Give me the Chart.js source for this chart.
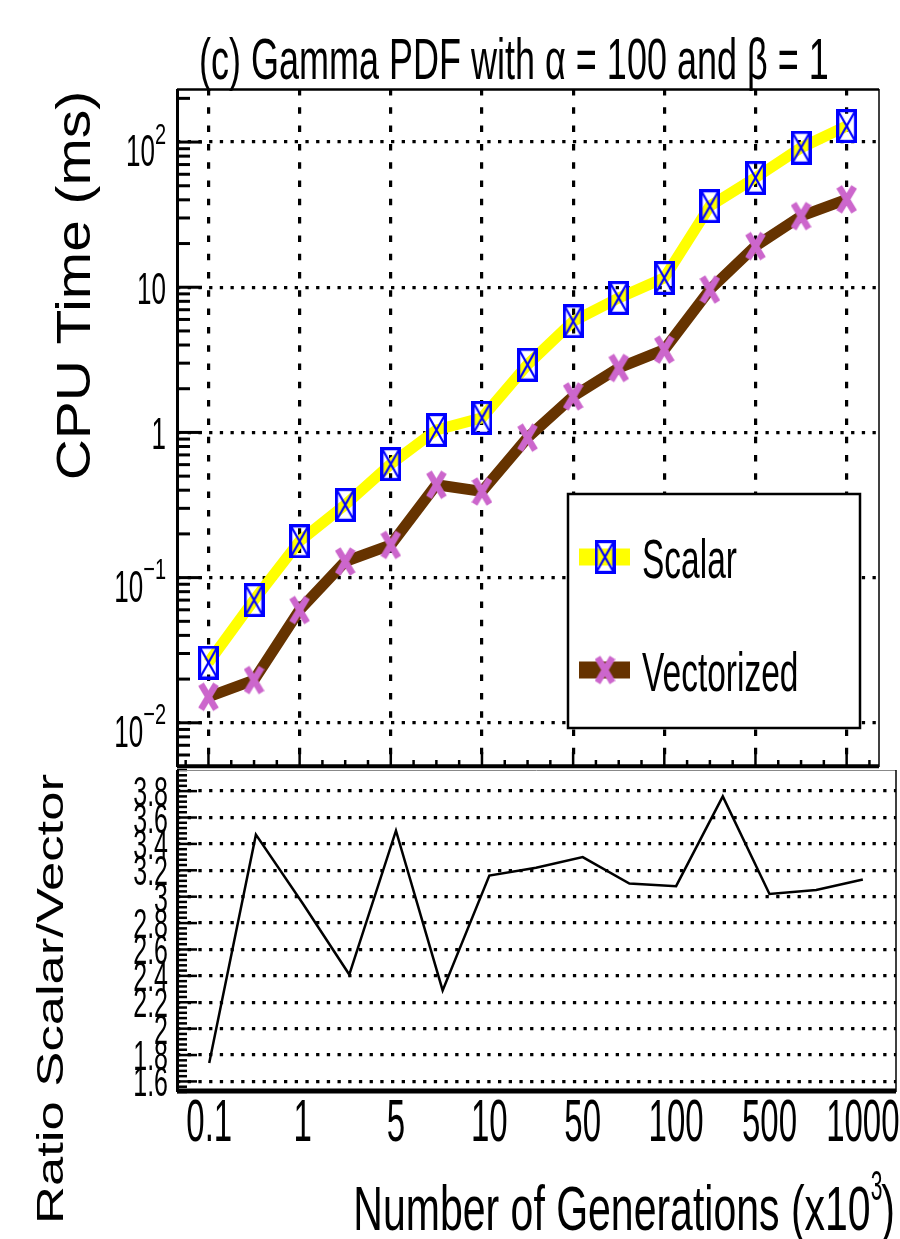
<!DOCTYPE html>
<html>
<head>
<meta charset="utf-8">
<title>Gamma PDF - CPU time</title>
<script src="https://cdn.jsdelivr.net/npm/chart.js@4.4.1/dist/chart.umd.min.js"></script>
<style>
  html, body { margin: 0; padding: 0; background: #fff; }
  #wrap { position: relative; width: 900px; height: 1239px; }
  #wrap canvas { position: absolute; left: 0; top: 0; }
</style>
</head>
<body>
<div id="wrap">
  <canvas id="ratioChart" width="900" height="1239"></canvas>
  <canvas id="cpuChart" width="900" height="1239"></canvas>
</div>
<script>
// Values; x is the point index, labelled every 2nd point
const xTickIndex = [0, 2, 4, 6, 8, 10, 12, 14];
const xTickLabels = ['0.1', '1', '5', '10', '50', '100', '500', '1000'];
const scalarTime = [0.026, 0.070, 0.178, 0.317, 0.605, 1.04, 1.26, 2.93, 5.83, 8.45, 11.6, 36.2, 56.8, 91.5, 129];
const vectorTime = [0.0151, 0.0197, 0.0598, 0.129, 0.168, 0.436, 0.392, 0.92, 1.77, 2.78, 3.72, 9.64, 19.2, 30.9, 40.3];
const ratioValues = [1.74, 3.47, 2.95, 2.41, 3.50, 2.29, 3.16, 3.22, 3.30, 3.10, 3.08, 3.76, 3.02, 3.05, 3.13];
const cpuTickValues = [0.01, 0.1, 1, 10, 100];
const cpuTickLabels = ['10^-2', '10^-1', '1', '10', '10^2'];
const ratioTickValues = [1.6, 1.8, 2.0, 2.2, 2.4, 2.6, 2.8, 3.0, 3.2, 3.4, 3.6, 3.8];
const ratioTickLabels = ['1.6', '1.8', '2', '2.2', '2.4', '2.6', '2.8', '3', '3.2', '3.4', '3.6', '3.8'];

const FONT = "'Liberation Sans', Arial, Helvetica, sans-serif";
const X_MIN = -0.69, X_MAX = 14.71;

// text helper: the ROOT picture uses tall, narrow lettering
function drawText(ctx, str, x, y, size, o = {}) {
    ctx.save();
    ctx.translate(x, y);
    if (o.rotate) ctx.rotate(o.rotate);
    ctx.scale(o.sx || 1, o.sy || 1);
    ctx.font = `${size}px ${FONT}`;
    ctx.textAlign = o.align || 'left';
    ctx.textBaseline = 'alphabetic';
    ctx.fillStyle = '#000';
    ctx.fillText(str, 0, 0);
    ctx.restore();
}

function measure(ctx, str, size) {
    ctx.save();
    ctx.font = `${size}px ${FONT}`;
    const w = ctx.measureText(str).width;
    ctx.restore();
    return w;
}

function seg(ctx, x1, y1, x2, y2) {
    ctx.beginPath();
    ctx.moveTo(x1, y1);
    ctx.lineTo(x2, y2);
    ctx.stroke();
}

// Marker images
function makeBoxCross() {
    const c = document.createElement('canvas');
    c.width = 21; c.height = 34;
    const g = c.getContext('2d');
    g.strokeStyle = '#0000ff';
    g.lineWidth = 3.2;
    g.strokeRect(1.6, 1.6, 17.8, 30.8);
    g.lineWidth = 2.2;
    g.beginPath();
    g.moveTo(2, 2); g.lineTo(19, 32);
    g.moveTo(19, 2); g.lineTo(2, 32);
    g.stroke();
    return c;
}

function makePinkCross() {
    const c = document.createElement('canvas');
    c.width = 21; c.height = 31;
    const g = c.getContext('2d');
    g.strokeStyle = '#cc66cc';
    g.lineWidth = 6.5;
    g.beginPath();
    g.moveTo(3, 3); g.lineTo(18, 28);
    g.moveTo(18, 3); g.lineTo(3, 28);
    g.stroke();
    return c;
}

const boxCross = makeBoxCross();
const pinkCross = makePinkCross();

// Frame, inward ticks, labels, title and legend of the upper pad
const cpuDecor = {
    id: 'cpuDecor',
    afterDraw(chart) {
        const { ctx, chartArea: a, scales: { x, y } } = chart;
        ctx.save();
        ctx.strokeStyle = '#000';

        // x ticks on the bottom edge
        ctx.lineWidth = 2.5;
        for (let v = -0.5; v <= 14.5; v += 0.5) {
            const px = x.getPixelForValue(v);
            seg(ctx, px, a.bottom, px, a.bottom - (v % 2 === 0 ? 15 : 7));
        }
        // log ticks on the left edge
        ctx.lineWidth = 3;
        for (let e = -3; e <= 2; e++) {
            for (let m = 1; m <= 9; m++) {
                const v = m * Math.pow(10, e);
                if (v < y.min || v > y.max) continue;
                const py = y.getPixelForValue(v);
                seg(ctx, a.left, py, a.left + (m === 1 ? 25 : 13), py);
            }
        }

        // frame
        ctx.lineWidth = 3;
        seg(ctx, a.left + 0.5, a.top, a.left + 0.5, a.bottom);
        ctx.lineWidth = 2.5;
        seg(ctx, a.left, a.top + 0.5, a.right, a.top + 0.5);
        ctx.lineWidth = 4;
        seg(ctx, a.left, a.bottom - 0.7, a.right, a.bottom - 0.7);
        ctx.lineWidth = 1.5;
        seg(ctx, a.right, a.top, a.right, a.bottom);

        // y tick labels
        cpuTickValues.forEach((v, i) => {
            const py = y.getPixelForValue(v);
            const [base, exp] = cpuTickLabels[i].split('^');
            if (exp === undefined) {
                drawText(ctx, base, 166, py + 1 + 16, 26, { sy: 1.73, align: 'right' });
            } else {
                const e = exp.replace('-', '\u2212');
                const ew = measure(ctx, e, 20);
                drawText(ctx, e, 166, py + 1.5, 20, { sy: 1.5, align: 'right' });
                drawText(ctx, base, 166 - ew, py + 24, 26, { sy: 1.73, align: 'right' });
            }
        });

        // title
        drawText(ctx, '(c) Gamma PDF with \u03b1 = 100 and \u03b2 = 1', 199, 79, 36, { sy: 1.6 });

        // y title
        drawText(ctx, 'CPU Time (ms)', 90, 285.5, 49, { rotate: -Math.PI / 2, sx: 1.16, align: 'center' });

        // legend
        const box = { l: 568, t: 494, w: 292, h: 234 };
        ctx.fillStyle = '#fff';
        ctx.fillRect(box.l, box.t, box.w, box.h);
        ctx.lineWidth = 2.5;
        ctx.strokeRect(box.l, box.t, box.w, box.h);
        const rows = [63, 176];
        chart.data.datasets.forEach((ds, i) => {
            const ry = box.t + rows[i];
            ctx.fillStyle = ds.borderColor;
            ctx.fillRect(box.l + 11, ry - 8.5, 51, 17);
            const img = ds.pointStyle;
            ctx.drawImage(img, box.l + 37 - img.width / 2, ry - img.height / 2);
            drawText(ctx, ds.label, box.l + 74, ry + 21, 33.5, { sy: 1.67 });
        });

        ctx.restore();
    }
};

// Frame, ticks, labels of the ratio pad and the shared x labels
const ratioDecor = {
    id: 'ratioDecor',
    afterDraw(chart) {
        const { ctx, chartArea: a, scales: { x, y } } = chart;
        ctx.save();
        ctx.strokeStyle = '#000';

        ctx.lineWidth = 2.5;
        for (let k = Math.ceil(y.min / 0.04); k * 0.04 <= y.max; k++) {
            const py = y.getPixelForValue(k * 0.04);
            seg(ctx, a.left, py, a.left + (k % 5 === 0 ? 20 : 10), py);
        }

        ctx.strokeStyle = '#888';
        ctx.lineWidth = 1;
        seg(ctx, a.left, a.top + 0.5, a.right, a.top + 0.5);
        ctx.strokeStyle = '#000';
        ctx.lineWidth = 3;
        seg(ctx, a.left + 0.5, a.top, a.left + 0.5, a.bottom);
        ctx.lineWidth = 5;
        seg(ctx, a.left, a.bottom - 1, a.right, a.bottom - 1);
        ctx.lineWidth = 1.5;
        seg(ctx, a.right, a.top, a.right, a.bottom);

        ratioTickValues.forEach((v, i) => {
            const py = y.getPixelForValue(v);
            drawText(ctx, ratioTickLabels[i], 168, py + 15, 25, { sy: 1.7, align: 'right' });
        });

        xTickIndex.forEach((v, i) => {
            const px = x.getPixelForValue(v);
            drawText(ctx, xTickLabels[i], px, 1141, 33, { sy: 1.77, align: 'center' });
        });

        // x title with superscript
        const pw = measure(ctx, ')', 41);
        drawText(ctx, ')', 895, 1230, 41, { sy: 1.55, align: 'right' });
        const sw = measure(ctx, '3', 21);
        drawText(ctx, '3', 895 - pw + 1, 1200, 21, { sy: 2.0, align: 'right' });
        drawText(ctx, 'Number of Generations (x10', 895 - pw + 1 - sw, 1230, 41, { sy: 1.55, align: 'right' });

        drawText(ctx, 'Ratio Scalar/Vector', 63, 999, 36, { rotate: -Math.PI / 2, sx: 1.46, align: 'center' });

        ctx.restore();
    }
};

const xIndexScale = {
    type: 'linear',
    min: X_MIN,
    max: X_MAX,
    bounds: 'data',
    ticks: { display: false },
    afterBuildTicks: (s) => { s.ticks = xTickIndex.map(v => ({ value: v })); },
    afterFit: (s) => { s.height = 0; }
};

// CPU TIME PAD
new Chart(document.getElementById('cpuChart'), {
    type: 'line',
    data: {
        datasets: [{
            label: 'Scalar',
            data: scalarTime.map((v, i) => ({ x: i, y: v })),
            borderColor: '#ffff00',
            borderWidth: 11,
            pointStyle: boxCross,
            pointRadius: 10,
            tension: 0
        }, {
            label: 'Vectorized',
            data: vectorTime.map((v, i) => ({ x: i, y: v })),
            borderColor: '#663300',
            borderWidth: 11,
            pointStyle: pinkCross,
            pointRadius: 10,
            tension: 0
        }]
    },
    options: {
        responsive: false,
        animation: false,
        events: [],
        layout: { padding: { left: 177, top: 89, right: 4, bottom: 472 } },
        plugins: { legend: { display: false }, tooltip: { enabled: false } },
        scales: {
            x: {
                ...xIndexScale,
                grid: { color: '#000', lineWidth: 3.2, drawTicks: false },
                border: { display: false, dash: [6.5, 11.8] }
            },
            y: {
                type: 'logarithmic',
                min: 0.00496,
                max: 232,
                bounds: 'data',
                ticks: { display: false },
                grid: { color: '#000', lineWidth: 3.3, drawTicks: false },
                border: { display: false, dash: [3.3, 7.4] },
                afterBuildTicks: (s) => { s.ticks = cpuTickValues.map(v => ({ value: v })); },
                afterFit: (s) => { s.width = 0; }
            }
        }
    },
    plugins: [cpuDecor]
});

// RATIO PAD
new Chart(document.getElementById('ratioChart'), {
    type: 'line',
    data: {
        datasets: [{
            label: 'Ratio Scalar/Vector',
            data: ratioValues.map((v, i) => ({ x: i, y: v })),
            borderColor: '#000',
            borderWidth: 2.5,
            pointRadius: 0,
            tension: 0
        }]
    },
    options: {
        responsive: false,
        animation: false,
        events: [],
        layout: { padding: { left: 177, top: 770, right: 4, bottom: 147 } },
        plugins: { legend: { display: false }, tooltip: { enabled: false } },
        scales: {
            x: {
                ...xIndexScale,
                grid: { display: false, drawTicks: false },
                border: { display: false }
            },
            y: {
                type: 'linear',
                min: 1.52,
                max: 3.96,
                bounds: 'data',
                ticks: { display: false },
                grid: { color: '#000', lineWidth: 3.3, drawTicks: false },
                border: { display: false, dash: [3.3, 7.4] },
                afterBuildTicks: (s) => { s.ticks = ratioTickValues.map(v => ({ value: v })); },
                afterFit: (s) => { s.width = 0; }
            }
        }
    },
    plugins: [ratioDecor]
});
</script>
</body>
</html>
